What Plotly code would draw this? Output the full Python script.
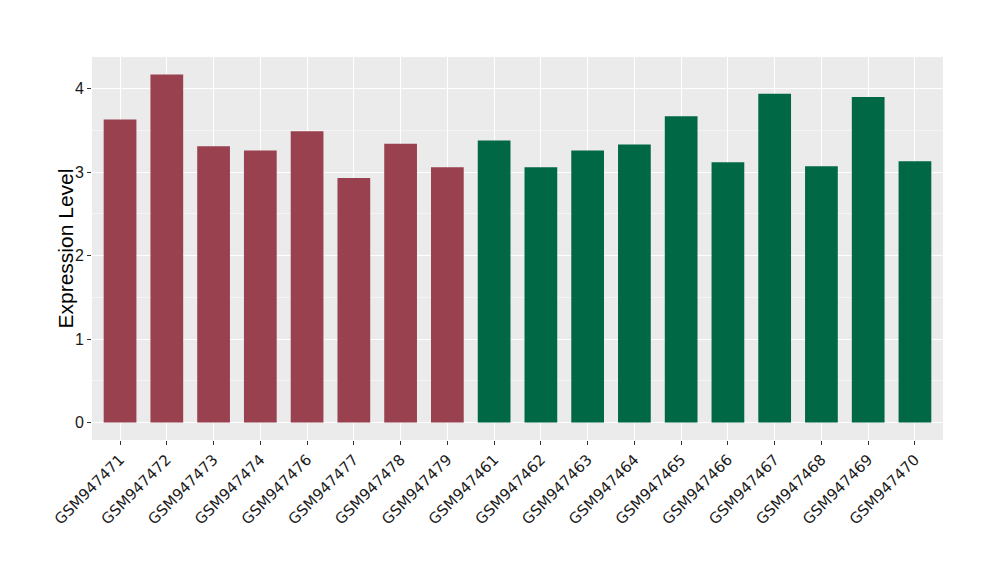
import plotly.graph_objects as go

samples = ["GSM947471", "GSM947472", "GSM947473", "GSM947474", "GSM947476", "GSM947477",
           "GSM947478", "GSM947479", "GSM947461", "GSM947462", "GSM947463", "GSM947464",
           "GSM947465", "GSM947466", "GSM947467", "GSM947468", "GSM947469", "GSM947470"]
values = [3.63, 4.17, 3.31, 3.26, 3.49, 2.93, 3.34, 3.06, 3.38, 3.06, 3.26, 3.33,
          3.67, 3.12, 3.94, 3.07, 3.90, 3.13]
groups = ["A"] * 8 + ["B"] * 10
group_colors = {"A": "#99414F", "B": "#006845"}

colors = [group_colors[g] for g in groups]

fig = go.Figure(go.Bar(x=samples, y=values, marker=dict(color=colors, line=dict(width=0)),
                       width=0.7, showlegend=False))

fig.update_layout(
    width=992, height=572,
    paper_bgcolor="white", plot_bgcolor="#EBEBEB",
    margin=dict(l=84, r=57, t=49, b=140),
    font=dict(family="Liberation Sans, Arial, sans-serif", color="#1a1a1a"),
    bargap=0.3,
    annotations=[dict(text="Expression Level", xref="paper", yref="paper",
                      x=-27 / 851, y=0.5, xanchor="center", yanchor="middle",
                      textangle=-90, showarrow=False,
                      font=dict(size=21, color="#000000"))],
)
fig.update_xaxes(
    type="category", range=[-0.6, 17.6],
    tickangle=-45, tickfont=dict(family="DejaVu Sans", size=15, color="#1a1a1a"),
    showgrid=True, gridcolor="white", gridwidth=1.2,
    ticks="outside", ticklen=4, tickcolor="#333333", tickwidth=1,
    showline=False, zeroline=False,
)
fig.update_yaxes(
    range=[-0.21, 4.38], tickvals=[0, 1, 2, 3, 4],
    tickfont=dict(size=16, color="#1a1a1a"),
    showgrid=True, gridcolor="white", gridwidth=1.2,
    minor=dict(dtick=0.5, tick0=0, showgrid=True, gridcolor="#F5F5F5", gridwidth=0.6),
    ticks="outside", ticklen=4, tickcolor="#333333", tickwidth=1,
    zeroline=False, showline=False,
)

fig.write_html("out.html")
